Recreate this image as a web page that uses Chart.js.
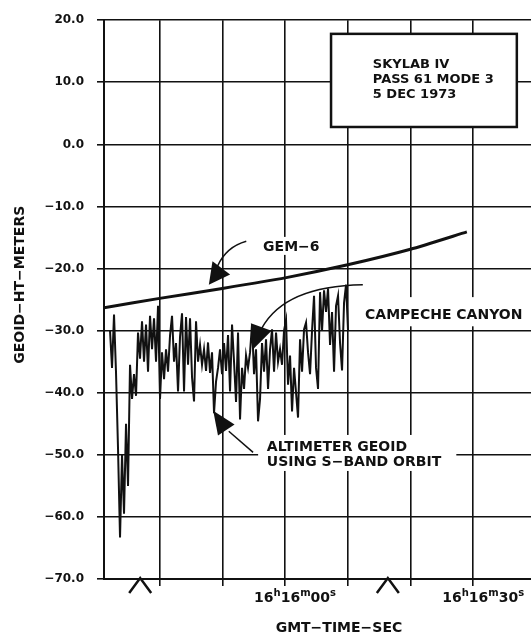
<!DOCTYPE html>
<html>
<head>
<meta charset="utf-8">
<script src="https://cdn.jsdelivr.net/npm/chart.js@4"></script>
<style>
  html, body { margin: 0; padding: 0; background: #fff; }
  canvas { display: block; }
</style>
</head>
<body>
<canvas id="chart" width="531" height="640"></canvas>
<script>
// Skylab IV altimeter geoid, pass 61 mode 3 — Chart.js rebuild

// x values are seconds from 16h16m00s GMT
const X_MIN = -28.87;
const X_MAX = 39.23;
const X_TICKS = [-20, -10, 0, 10, 20, 30];
const Y_TICKS = [20, 10, 0, -10, -20, -30, -40, -50, -60, -70];

// labelled ticks on the time axis
const TIME_LABEL_SEC = [0, 30];
const TIME_LABELS = [
  ["16", "h", "16", "m", "00", "s"],
  ["16", "h", "16", "m", "30", "s"],
];

// the two ^ marks under the time axis
const CARET_SEC = [-23.1, 16.4];

// GEM-6 reference geoid
const GEM6_SEC = [-28.87, -20, -10, 0, 10, 20, 29];
const GEM6_M = [-26.3, -24.8, -23.2, -21.5, -19.4, -16.9, -14.1];

// altimeter geoid (S-band orbit), one sample every TRACE_STEP seconds
const TRACE_START = -27.91;
const TRACE_STEP = 0.319;
const TRACE_M = [
  -30.0, -36.0, -27.4, -36.8, -49.0, -63.3, -50.0, -59.5, -45.0, -55.0,
  -35.5, -41.0, -37.0, -40.5, -30.3, -34.5, -28.5, -35.0, -29.0, -36.6,
  -27.6, -33.0, -28.0, -35.0, -26.0, -41.0, -33.5, -37.8, -33.0, -36.6,
  -30.8, -27.6, -35.0, -32.0, -39.8, -31.0, -27.2, -39.8, -27.8, -35.5,
  -28.0, -37.5, -41.4, -28.5, -35.0, -32.3, -35.5, -33.0, -36.5, -31.9,
  -36.8, -33.5, -43.3, -38.2, -36.0, -33.0, -37.0, -32.0, -36.5, -30.7,
  -39.8, -29.0, -35.0, -41.5, -30.3, -44.3, -36.0, -39.4, -34.0, -36.0,
  -33.5, -29.0, -37.0, -33.0, -44.6, -41.0, -32.0, -36.6, -31.4, -39.4,
  -33.0, -29.8, -36.6, -30.3, -35.0, -33.0, -35.5, -30.0, -28.3, -38.7,
  -34.0, -43.0, -36.0, -40.0, -44.0, -31.4, -36.6, -29.8, -28.7, -33.5,
  -37.0, -30.0, -24.4, -36.0, -39.4, -23.8, -30.0, -23.5, -27.0, -23.2,
  -32.3, -27.0, -36.6, -26.0, -24.4, -32.0, -36.4, -25.5, -22.6, -30.0,
];

const INK = "#111";
const FONT = "'DejaVu Sans', sans-serif";

function fmtMeters(v) {
  return (v < 0 ? "\u2212" : "") + Math.abs(v).toFixed(1);
}

function arrowHead(ctx, tx, ty, bx, by, halfW) {
  const dx = tx - bx, dy = ty - by;
  const len = Math.hypot(dx, dy);
  const nx = -dy / len, ny = dx / len;
  ctx.beginPath();
  ctx.moveTo(tx, ty);
  ctx.lineTo(bx + nx * halfW, by + ny * halfW);
  ctx.lineTo(bx - nx * halfW, by - ny * halfW);
  ctx.closePath();
  ctx.fill();
}

function whiteBox(ctx, x0, y0, x1, y1) {
  ctx.fillStyle = "#fff";
  ctx.fillRect(x0, y0, x1 - x0, y1 - y0);
  ctx.fillStyle = INK;
}

// time labels with raised h / m / s
function drawTimeLabel(ctx, parts, cx, baseY) {
  const big = `bold 14px ${FONT}`, small = `bold 10px ${FONT}`;
  let total = 0;
  parts.forEach((p, i) => {
    ctx.font = i % 2 ? small : big;
    total += ctx.measureText(p).width;
  });
  let x = cx - total / 2;
  ctx.textAlign = "left";
  ctx.textBaseline = "alphabetic";
  parts.forEach((p, i) => {
    ctx.font = i % 2 ? small : big;
    ctx.fillText(p, x, i % 2 ? baseY - 6 : baseY);
    x += ctx.measureText(p).width;
  });
}

const annotate = {
  id: "annotate",
  afterDraw(chart) {
    const { ctx, chartArea, scales: { x, y } } = chart;
    const px = (s) => x.getPixelForValue(s);
    const py = (m) => y.getPixelForValue(m);
    ctx.save();
    ctx.fillStyle = INK;
    ctx.strokeStyle = INK;

    // time tick labels + carets
    TIME_LABEL_SEC.forEach((s, i) =>
      drawTimeLabel(ctx, TIME_LABELS[i], px(s) + 10, chartArea.bottom + 23));
    ctx.lineWidth = 2.5;
    CARET_SEC.forEach((s) => {
      const cx = px(s), b = chartArea.bottom;
      ctx.beginPath();
      ctx.moveTo(cx - 11, b + 14);
      ctx.lineTo(cx, b - 1);
      ctx.lineTo(cx + 11, b + 14);
      ctx.stroke();
    });

    // axis titles
    ctx.font = `bold 14px ${FONT}`;
    ctx.textAlign = "center";
    ctx.fillText("GMT\u2212TIME\u2212SEC", px(8.6), chartArea.bottom + 53);
    ctx.save();
    ctx.translate(chartArea.left - 84, py(-22.6));
    ctx.rotate(-Math.PI / 2);
    ctx.textBaseline = "middle";
    ctx.fillText("GEOID\u2212HT\u2212METERS", 0, 0);
    ctx.restore();

    // title box
    const bx0 = px(7.34), bx1 = px(36.97), by0 = py(17.8), by1 = py(2.8);
    whiteBox(ctx, bx0, by0, bx1, by1);
    ctx.lineWidth = 2.5;
    ctx.strokeRect(bx0, by0, bx1 - bx0, by1 - by0);
    ctx.font = `bold 13px ${FONT}`;
    ctx.textAlign = "left";
    ctx.textBaseline = "alphabetic";
    ctx.fillText("SKYLAB IV", px(14.0), py(12.35));
    ctx.fillText("PASS 61 MODE 3", px(14.0), py(9.95));
    ctx.fillText("5 DEC 1973", px(14.0), py(7.55));

    // GEM-6 label and arrow
    ctx.font = `bold 14px ${FONT}`;
    whiteBox(ctx, px(-4.0), py(-14.9), px(5.95), py(-17.8));
    ctx.fillText("GEM\u22126", px(-3.5), py(-17.2));
    ctx.lineWidth = 1.5;
    ctx.beginPath();
    ctx.moveTo(px(-6.18), py(-15.6));
    ctx.quadraticCurveTo(px(-9.37), py(-16.5), px(-10.76), py(-19.6));
    ctx.stroke();
    arrowHead(ctx, px(-12.15), py(-22.6), px(-10.16), py(-19.9), 11);

    // Campeche Canyon label and arrow
    whiteBox(ctx, px(11.91), py(-24.6), px(38.76), py(-29.3));
    ctx.fillText("CAMPECHE CANYON", px(12.76), py(-28.2));
    ctx.beginPath();
    ctx.moveTo(px(12.41), py(-22.6));
    ctx.quadraticCurveTo(px(-0.02), py(-22.8), px(-3.7), py(-29.6));
    ctx.stroke();
    arrowHead(ctx, px(-5.09), py(-33.0), px(-3.8), py(-29.4), 11);

    // altimeter label and arrow
    whiteBox(ctx, px(-4.29), py(-46.8), px(27.32), py(-52.6));
    ctx.fillText("ALTIMETER GEOID", px(-2.9), py(-49.4));
    ctx.fillText("USING S\u2212BAND ORBIT", px(-2.9), py(-51.8));
    ctx.beginPath();
    ctx.moveTo(px(-5.09), py(-49.6));
    ctx.lineTo(px(-8.97), py(-46.2));
    ctx.stroke();
    arrowHead(ctx, px(-11.45), py(-42.9), px(-9.37), py(-46.0), 10);

    ctx.restore();
  },
};

const gem6 = GEM6_SEC.map((s, i) => ({ x: s, y: GEM6_M[i] }));
const trace = TRACE_M.map((m, i) => ({ x: TRACE_START + i * TRACE_STEP, y: m }));

new Chart(document.getElementById("chart"), {
  type: "scatter",
  data: {
    datasets: [
      { data: trace, showLine: true, borderColor: INK, borderWidth: 2, pointRadius: 0, tension: 0 },
      { data: gem6, showLine: true, borderColor: INK, borderWidth: 3, pointRadius: 0, tension: 0.2 },
    ],
  },
  options: {
    responsive: false,
    animation: false,
    events: [],
    layout: { padding: { top: 15, right: 0, bottom: 0, left: 0 } },
    plugins: { legend: { display: false }, tooltip: { enabled: false } },
    scales: {
      x: {
        type: "linear",
        min: X_MIN,
        max: X_MAX,
        afterBuildTicks: (s) => { s.ticks = X_TICKS.map((v) => ({ value: v })); },
        afterFit: (s) => { s.height = 61; },
        ticks: { display: false },
        grid: { color: INK, lineWidth: 1.6, tickLength: 7 },
        border: { color: INK, width: 2 },
      },
      y: {
        min: -70,
        max: 20,
        afterBuildTicks: (s) => { s.ticks = Y_TICKS.map((v) => ({ value: v })); },
        afterFit: (s) => { s.width = 104; },
        ticks: {
          color: INK,
          padding: 13,
          font: { family: FONT, size: 12, weight: "bold" },
          callback: (v) => fmtMeters(v),
        },
        grid: { color: INK, lineWidth: 1.6, tickLength: 7 },
        border: { color: INK, width: 2 },
      },
    },
  },
  plugins: [annotate],
});
</script>
</body>
</html>
